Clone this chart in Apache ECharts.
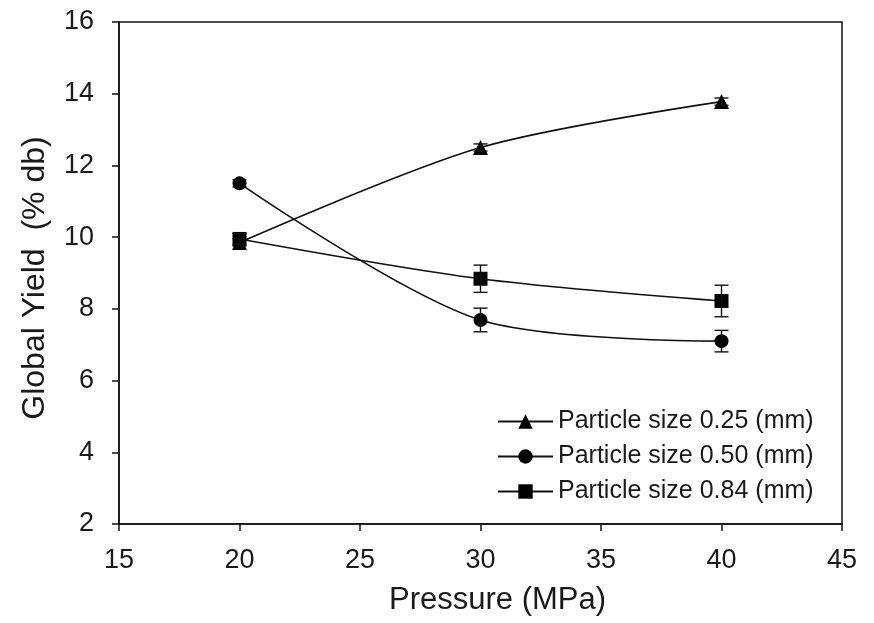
<!DOCTYPE html>
<html>
<head>
<meta charset="utf-8">
<script src="https://cdn.jsdelivr.net/npm/echarts@6/dist/echarts.min.js"></script>
<style>
html,body{margin:0;padding:0;background:#fff;}
#chart{width:874px;height:623px;}
</style>
</head>
<body>
<div id="chart"></div>
<script>
const pressure = [20, 30, 40];
const seriesNames = ['Particle size 0.25 (mm)', 'Particle size 0.50 (mm)', 'Particle size 0.84 (mm)'];
const yield025 = [9.85, 12.5, 13.78];
const err025 = [0.1, 0.1, 0.1];
const yield050 = [11.5, 7.69, 7.1];
const err050 = [0.1, 0.33, 0.3];
const yield084 = [9.95, 8.84, 8.22];
const err084 = [0.15, 0.38, 0.44];
const symbols = ['triangle', 'circle', 'rect'];

const FONT = "'Liberation Sans', Arial, sans-serif";
const chart = echarts.init(document.getElementById('chart'), null, {renderer: 'canvas'});

const values = [yield025, yield050, yield084];
const errs = [err025, err050, err084];

function pairs(ys) { return pressure.map((x, i) => [x, ys[i]]); }
function errData(ys, es) { return pressure.map((x, i) => [x, ys[i] - es[i], ys[i] + es[i]]); }

const lineSeries = values.map((ys, k) => ({
  name: seriesNames[k],
  type: 'line',
  data: pairs(ys),
  smooth: 0.3,
  symbol: symbols[k],
  symbolSize: k === 0 ? 15 : 14,
  showSymbol: true,
  lineStyle: {color: '#111', width: 1.6},
  itemStyle: {color: '#000', borderWidth: 0},
  z: 3
}));

const errSeries = values.map((ys, k) => ({
  type: 'custom',
  data: errData(ys, errs[k]),
  silent: true,
  z: 4,
  renderItem: function (params, api) {
    const x = api.value(0);
    const lo = api.coord([x, api.value(1)]);
    const hi = api.coord([x, api.value(2)]);
    const half = 7;
    const style = {stroke: '#111', lineWidth: 1.4};
    return {
      type: 'group',
      children: [
        {type: 'line', shape: {x1: lo[0], y1: lo[1], x2: hi[0], y2: hi[1]}, style: style},
        {type: 'line', shape: {x1: lo[0] - half, y1: lo[1], x2: lo[0] + half, y2: lo[1]}, style: style},
        {type: 'line', shape: {x1: hi[0] - half, y1: hi[1], x2: hi[0] + half, y2: hi[1]}, style: style}
      ]
    };
  }
}));

chart.setOption({
  backgroundColor: '#fff',
  animation: false,
  textStyle: {fontFamily: FONT},
  grid: {left: 119, right: 32, top: 22, bottom: 99, show: true, borderColor: '#111', borderWidth: 1.5, containLabel: false},
  legend: {
    data: seriesNames,
    orient: 'vertical',
    left: 492,
    top: 404,
    itemWidth: 55,
    itemHeight: 18,
    itemGap: 10,
    textStyle: {fontFamily: FONT, fontSize: 25, color: '#1a1a1a', lineHeight: 25},
    inactiveColor: '#000'
  },
  xAxis: {
    type: 'value',
    min: 15, max: 45, interval: 5,
    name: 'Pressure (MPa)',
    nameLocation: 'middle',
    nameGap: 61,
    nameTextStyle: {fontFamily: FONT, fontSize: 31, color: '#1a1a1a', padding: [0, 0, 0, 34]},
    axisLine: {show: true, onZero: false, lineStyle: {color: '#111', width: 1.5}},
    axisTick: {show: true, inside: false, length: 7, lineStyle: {color: '#111', width: 1.5}},
    axisLabel: {fontFamily: FONT, fontSize: 27, color: '#1a1a1a', margin: 23},
    splitLine: {show: false}
  },
  yAxis: {
    type: 'value',
    min: 2, max: 16, interval: 2,
    name: 'Global Yield  (% db)',
    nameLocation: 'middle',
    nameGap: 68,
    nameRotate: 90,
    nameTextStyle: {fontFamily: FONT, fontSize: 32, color: '#1a1a1a', padding: [0, 10, 0, 0]},
    axisLine: {show: true, onZero: false, lineStyle: {color: '#111', width: 1.5}},
    axisTick: {show: true, inside: false, length: 7, lineStyle: {color: '#111', width: 1.5}},
    axisLabel: {fontFamily: FONT, fontSize: 27, color: '#1a1a1a', margin: 25},
    splitLine: {show: false}
  },
  series: lineSeries.concat(errSeries)
});
</script>
</body>
</html>
